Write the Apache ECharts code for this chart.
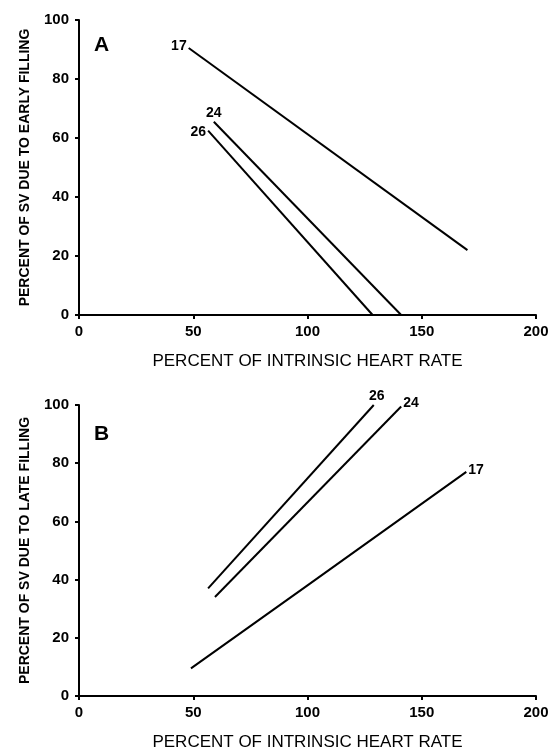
<!DOCTYPE html>
<html>
<head>
<meta charset="utf-8">
<script src="https://cdn.jsdelivr.net/npm/echarts@6/dist/echarts.min.js"></script>
<style>
  html, body { margin: 0; padding: 0; background: #fff; }
  #chart { width: 555px; height: 752px; }
</style>
</head>
<body>
<div id="chart"></div>
<script>
// panel A: early filling vs heart rate, one line per animal
var earlyRate17 = [48, 170], earlyPct17 = [90.5, 22];
var earlyRate24 = [59, 141], earlyPct24 = [65.5, 0];
var earlyRate26 = [56.5, 128.5], earlyPct26 = [62.5, 0];
// panel B: late filling
var lateRate26 = [56.5, 129], latePct26 = [37, 100];
var lateRate24 = [59.5, 141], latePct24 = [34, 99.5];
var lateRate17 = [49, 100, 169.5], latePct17 = [9.5, 38, 77];

var xTicks = [0, 50, 100, 150, 200];
var yTicks = [0, 20, 40, 60, 80, 100];
var xTitle = 'PERCENT OF INTRINSIC HEART RATE';
var yTitleA = 'PERCENT OF SV DUE TO EARLY FILLING';
var yTitleB = 'PERCENT OF SV DUE TO LATE FILLING';

var myChart = echarts.init(document.getElementById('chart'));
var font = 'Arial, "Liberation Sans", Helvetica, sans-serif';

function makeData(xs, ys, labelIdx, label) {
    return xs.map(function (x, i) {
        var item = { value: [x, ys[i]] };
        if (i === labelIdx) item.label = label;
        return item;
    });
}

function lbl(pos, offset) {
    return {
        show: true, position: pos, distance: 2, offset: offset || [0, 0],
        formatter: '{a}', color: '#000', fontSize: 14, fontWeight: 'bold', fontFamily: font
    };
}

function lineSeries(name, idx, xs, ys, labelIdx, label) {
    return {
        name: name,
        type: 'line',
        xAxisIndex: idx,
        yAxisIndex: idx,
        symbol: 'circle',
        symbolSize: 0,
        showSymbol: true,
        silent: true,
        animation: false,
        lineStyle: { color: '#000', width: 2 },
        itemStyle: { color: '#000' },
        label: { show: false },
        data: makeData(xs, ys, labelIdx, label)
    };
}

function xAxisCfg(idx) {
    return {
        type: 'value', gridIndex: idx, min: xTicks[0], max: xTicks[xTicks.length - 1], interval: 50,
        name: xTitle, nameLocation: 'middle', nameGap: 38,
        nameTextStyle: { color: '#000', fontSize: 17, fontFamily: font },
        axisLine: { lineStyle: { color: '#000', width: 2 } },
        axisTick: { show: true, length: 4, lineStyle: { color: '#000', width: 2 } },
        axisLabel: { color: '#000', fontSize: 15, fontWeight: 'bold', fontFamily: font, margin: 9 },
        splitLine: { show: false }
    };
}

function yAxisCfg(idx, title) {
    return {
        type: 'value', gridIndex: idx, min: yTicks[0], max: yTicks[yTicks.length - 1], interval: 20,
        name: title, nameLocation: 'middle', nameGap: 47,
        nameTextStyle: { color: '#000', fontSize: 14, fontWeight: 'bold', fontFamily: font },
        axisLine: { show: true, lineStyle: { color: '#000', width: 2 } },
        axisTick: { show: true, length: 4, lineStyle: { color: '#000', width: 2 } },
        axisLabel: { color: '#000', fontSize: 15, fontWeight: 'bold', fontFamily: font, margin: 10 },
        splitLine: { show: false }
    };
}

option = {
    backgroundColor: '#fff',
    animation: false,
    title: [
        { text: 'A', left: 89, top: 30, textStyle: { fontSize: 21, fontWeight: 'bold', color: '#000', fontFamily: font } },
        { text: 'B', left: 89, top: 419, textStyle: { fontSize: 21, fontWeight: 'bold', color: '#000', fontFamily: font } }
    ],
    grid: [
        { left: 79, right: 19, top: 20, height: 295 },
        { left: 79, right: 19, top: 405, height: 291 }
    ],
    xAxis: [xAxisCfg(0), xAxisCfg(1)],
    yAxis: [yAxisCfg(0, yTitleA), yAxisCfg(1, yTitleB)],
    series: [
        lineSeries('17', 0, earlyRate17, earlyPct17, 0, lbl('left', [0, -2])),
        lineSeries('24', 0, earlyRate24, earlyPct24, 0, lbl('top', [0, 0])),
        lineSeries('26', 0, earlyRate26, earlyPct26, 0, lbl('left', [0, 2])),
        lineSeries('26', 1, lateRate26, latePct26, 1, lbl('top', [3, 0])),
        lineSeries('24', 1, lateRate24, latePct24, 1, lbl('right', [0, -3])),
        lineSeries('17', 1, lateRate17, latePct17, 2, lbl('right', [0, -2]))
    ]
};

myChart.setOption(option);
</script>
</body>
</html>
